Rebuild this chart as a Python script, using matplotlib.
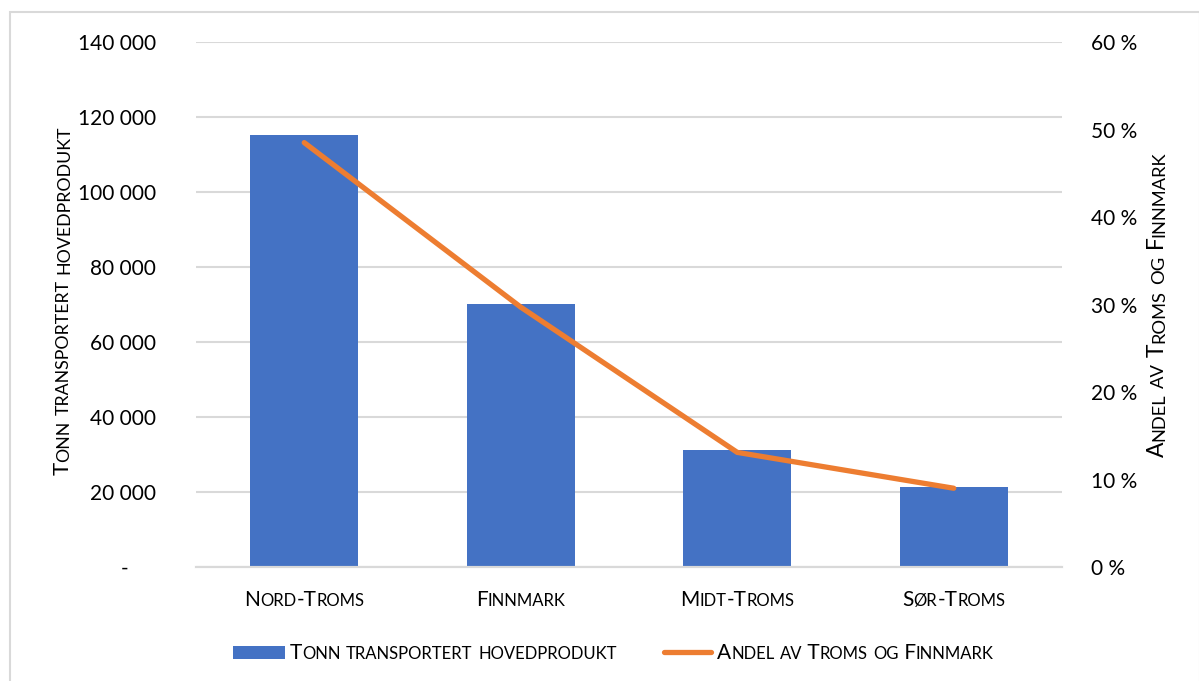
import matplotlib
matplotlib.use('Agg')
import matplotlib.pyplot as plt
import matplotlib.patches as patches
from matplotlib.lines import Line2D
from matplotlib import transforms
from matplotlib.ticker import FuncFormatter

regions = ['Nord-Troms', 'Finnmark', 'Midt-Troms', 'Sør-Troms']
tonnes = [115300, 70100, 31200, 21400]
share = [48.5, 29.7, 13.1, 9.0]

bar_label = 'Tonn transportert hovedprodukt'
line_label = 'Andel av Troms og Finnmark'

BLUE = '#4472C4'
ORANGE = '#ED7D31'
GRID = '#D9D9D9'
W, H = 1199, 681

plt.rcParams['font.family'] = ['Lato', 'DejaVu Sans']

fig = plt.figure(figsize=(W / 100, H / 100), dpi=100)
fig.patch.set_facecolor('white')


def fx(x):
    return x / W


def fy(y):
    return 1 - y / H


# plot area in pixels: left 196, right 1062, top 42, bottom 567
ax = fig.add_axes([fx(196), fy(567), fx(1062) - fx(196), fy(42) - fy(567)])
ax2 = ax.twinx()

x = list(range(len(regions)))
ax.bar(x, tonnes, width=0.5, color=BLUE, zorder=2)
ax2.plot(x, share, color=ORANGE, lw=3.8, solid_capstyle='round',
         solid_joinstyle='miter', zorder=3)

ax.set_xlim(-0.5, 3.5)
ax.set_ylim(0, 140000)
ax2.set_ylim(0, 60)
ax.set_yticks(range(0, 140001, 20000))
ax2.set_yticks(range(0, 61, 10))
ax.yaxis.set_major_formatter(FuncFormatter(
    lambda v, p: '-     ' if v == 0 else f'{int(v):,}'.replace(',', ' ')))
ax2.yaxis.set_major_formatter(FuncFormatter(lambda v, p: f'{int(v)} %'))
ax.set_xticks(x)
ax.set_xticklabels([])

ax.grid(axis='y', color=GRID, lw=1.5, zorder=0)
ax.set_axisbelow(True)
for a in (ax, ax2):
    for s in ('top', 'left', 'right'):
        a.spines[s].set_visible(False)
    a.spines['bottom'].set_color(GRID)
    a.spines['bottom'].set_linewidth(1.5)
    a.tick_params(length=0, labelsize=15, colors='black')
ax.tick_params(axis='y', pad=29)
ax2.tick_params(axis='y', pad=21)
ax2.patch.set_visible(False)

# outer frame of the chart area
fig.patches.append(patches.Rectangle((fx(10), fy(690)), fx(1200) - fx(10), fy(12) - fy(690),
                                     transform=fig.transFigure, fill=False,
                                     edgecolor=GRID, lw=1.5))


def split_runs(text):
    runs = []
    for ch in text:
        small = ch.islower()
        if runs and runs[-1][1] == small:
            runs[-1][0] += ch
        else:
            runs.append([ch, small])
    return runs


def smallcaps(xp, yp, text, size, rotation=0, align='center', ratio=0.8):
    """Draw text in small caps at pixel position (baseline)."""
    renderer = fig.canvas.get_renderer()
    base = fig.transFigure
    pieces = []
    total = 0
    for s, small in split_runs(text):
        t = fig.text(fx(xp), fy(yp), s.upper(), fontsize=size * ratio if small else size,
                     rotation=rotation, rotation_mode='anchor',
                     ha='left', va='baseline', transform=base)
        ex = t.get_window_extent(renderer)
        ln = ex.height if rotation == 90 else ex.width
        pieces.append((t, ln))
        total += ln
    start = -total / 2 if align == 'center' else 0
    pos = start
    for t, ln in pieces:
        if rotation == 90:
            t.set_transform(transforms.offset_copy(base, fig=fig, y=pos, units='dots'))
        else:
            t.set_transform(transforms.offset_copy(base, fig=fig, x=pos, units='dots'))
        pos += ln


fig.canvas.draw()

# category labels under the bars
for i, name in enumerate(regions):
    xd = ax.transData.transform((i, 0))[0]
    smallcaps(xd, 606, name, 15)

# axis titles
smallcaps(69, 300, bar_label, 16, rotation=90)
smallcaps(1164, 304, line_label, 16.5, rotation=90)

# legend
fig.patches.append(patches.Rectangle((fx(233), fy(659)), fx(285) - fx(233), fy(646) - fy(659),
                                     transform=fig.transFigure, facecolor=BLUE))
fig.lines.append(Line2D([fx(664), fx(711)], [fy(652), fy(652)], transform=fig.transFigure,
                        color=ORANGE, lw=3.8, solid_capstyle='round'))
smallcaps(290, 659, bar_label, 15, align='left')
smallcaps(717, 659, line_label, 15, align='left')

fig.savefig('out.png', dpi=100)
